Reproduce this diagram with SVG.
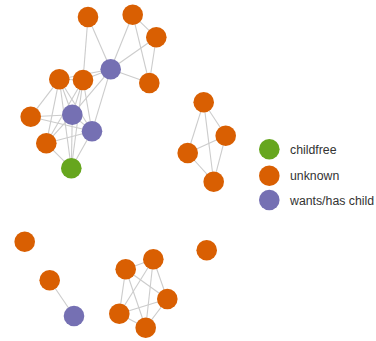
<svg xmlns="http://www.w3.org/2000/svg" width="376" height="341" viewBox="0 0 376 341">
<style>
.e{stroke:#cccccc;stroke-width:1.1;fill:none}
.o{fill:#d95f02}
.g{fill:#66a61e}
.p{fill:#7570b3}
.t{font-family:"Liberation Sans",Arial,sans-serif;font-size:12.3px;fill:#333333}
</style>
<rect width="376" height="341" fill="#ffffff"/>
<g id="edges">
<line class="e" x1="88" y1="17" x2="110.7" y2="69.3"/>
<line class="e" x1="88" y1="17" x2="83" y2="80"/>
<line class="e" x1="132.7" y1="14.7" x2="110.7" y2="69.3"/>
<line class="e" x1="132.7" y1="14.7" x2="156.3" y2="37.3"/>
<line class="e" x1="132.7" y1="14.7" x2="149.3" y2="83"/>
<line class="e" x1="156.3" y1="37.3" x2="110.7" y2="69.3"/>
<line class="e" x1="156.3" y1="37.3" x2="149.3" y2="83"/>
<line class="e" x1="149.3" y1="83" x2="110.7" y2="69.3"/>
<line class="e" x1="83" y1="80" x2="110.7" y2="69.3"/>
<line class="e" x1="59.3" y1="79.3" x2="110.7" y2="69.3"/>
<line class="e" x1="59.3" y1="79.3" x2="83" y2="80"/>
<line class="e" x1="110.7" y1="69.3" x2="72.3" y2="114.7"/>
<line class="e" x1="110.7" y1="69.3" x2="92" y2="131.3"/>
<line class="e" x1="59.3" y1="79.3" x2="30.7" y2="116.7"/>
<line class="e" x1="59.3" y1="79.3" x2="72.3" y2="114.7"/>
<line class="e" x1="59.3" y1="79.3" x2="92" y2="131.3"/>
<line class="e" x1="59.3" y1="79.3" x2="46.3" y2="143.3"/>
<line class="e" x1="59.3" y1="79.3" x2="71.3" y2="168.3"/>
<line class="e" x1="83" y1="80" x2="72.3" y2="114.7"/>
<line class="e" x1="83" y1="80" x2="92" y2="131.3"/>
<line class="e" x1="83" y1="80" x2="46.3" y2="143.3"/>
<line class="e" x1="83" y1="80" x2="71.3" y2="168.3"/>
<line class="e" x1="30.7" y1="116.7" x2="72.3" y2="114.7"/>
<line class="e" x1="30.7" y1="116.7" x2="92" y2="131.3"/>
<line class="e" x1="46.3" y1="143.3" x2="72.3" y2="114.7"/>
<line class="e" x1="46.3" y1="143.3" x2="92" y2="131.3"/>
<line class="e" x1="46.3" y1="143.3" x2="71.3" y2="168.3"/>
<line class="e" x1="72.3" y1="114.7" x2="92" y2="131.3"/>
<line class="e" x1="72.3" y1="114.7" x2="71.3" y2="168.3"/>
<line class="e" x1="92" y1="131.3" x2="71.3" y2="168.3"/>
<line class="e" x1="203.7" y1="102.3" x2="225.7" y2="135.7"/>
<line class="e" x1="203.7" y1="102.3" x2="187.7" y2="153"/>
<line class="e" x1="203.7" y1="102.3" x2="213.7" y2="181.7"/>
<line class="e" x1="225.7" y1="135.7" x2="187.7" y2="153"/>
<line class="e" x1="225.7" y1="135.7" x2="213.7" y2="181.7"/>
<line class="e" x1="187.7" y1="153" x2="213.7" y2="181.7"/>
<line class="e" x1="49.7" y1="280.3" x2="74" y2="316"/>
<line class="e" x1="125.7" y1="269.3" x2="153.3" y2="259.3"/>
<line class="e" x1="125.7" y1="269.3" x2="167.3" y2="299"/>
<line class="e" x1="125.7" y1="269.3" x2="119.3" y2="313.7"/>
<line class="e" x1="125.7" y1="269.3" x2="145.7" y2="327.7"/>
<line class="e" x1="153.3" y1="259.3" x2="167.3" y2="299"/>
<line class="e" x1="153.3" y1="259.3" x2="119.3" y2="313.7"/>
<line class="e" x1="153.3" y1="259.3" x2="145.7" y2="327.7"/>
<line class="e" x1="167.3" y1="299" x2="119.3" y2="313.7"/>
<line class="e" x1="167.3" y1="299" x2="145.7" y2="327.7"/>
<line class="e" x1="119.3" y1="313.7" x2="145.7" y2="327.7"/>
</g>
<g id="n1"><circle class="o" cx="88" cy="17" r="10.3"/></g>
<g id="n2"><circle class="o" cx="132.7" cy="14.7" r="10.3"/></g>
<g id="n3"><circle class="o" cx="156.3" cy="37.3" r="10.3"/></g>
<g id="n4"><circle class="o" cx="149.3" cy="83" r="10.3"/></g>
<g id="n5"><circle class="p" cx="110.7" cy="69.3" r="10.3"/></g>
<g id="n6"><circle class="o" cx="59.3" cy="79.3" r="10.3"/></g>
<g id="n7"><circle class="o" cx="83" cy="80" r="10.3"/></g>
<g id="n8"><circle class="o" cx="30.7" cy="116.7" r="10.3"/></g>
<g id="n9"><circle class="p" cx="72.3" cy="114.7" r="10.3"/></g>
<g id="n10"><circle class="p" cx="92" cy="131.3" r="10.3"/></g>
<g id="n11"><circle class="o" cx="46.3" cy="143.3" r="10.3"/></g>
<g id="n12"><circle class="g" cx="71.3" cy="168.3" r="10.3"/></g>
<g id="n13"><circle class="o" cx="203.7" cy="102.3" r="10.3"/></g>
<g id="n14"><circle class="o" cx="225.7" cy="135.7" r="10.3"/></g>
<g id="n15"><circle class="o" cx="187.7" cy="153" r="10.3"/></g>
<g id="n16"><circle class="o" cx="213.7" cy="181.7" r="10.3"/></g>
<g id="n17"><circle class="o" cx="24.7" cy="241.7" r="10.3"/></g>
<g id="n18"><circle class="o" cx="49.7" cy="280.3" r="10.3"/></g>
<g id="n19"><circle class="p" cx="74" cy="316" r="10.3"/></g>
<g id="n20"><circle class="o" cx="206.7" cy="250.3" r="10.3"/></g>
<g id="n21"><circle class="o" cx="125.7" cy="269.3" r="10.3"/></g>
<g id="n22"><circle class="o" cx="153.3" cy="259.3" r="10.3"/></g>
<g id="n23"><circle class="o" cx="167.3" cy="299" r="10.3"/></g>
<g id="n24"><circle class="o" cx="119.3" cy="313.7" r="10.3"/></g>
<g id="n25"><circle class="o" cx="145.7" cy="327.7" r="10.3"/></g>
<g id="legend">
<circle class="g" cx="269.3" cy="149.3" r="10.3"/>
<circle class="o" cx="269.3" cy="175.7" r="10.3"/>
<circle class="p" cx="269.3" cy="200" r="10.3"/>
<text class="t" x="290" y="153.5">childfree</text>
<text class="t" x="290" y="179.8">unknown</text>
<text class="t" x="290" y="204.5">wants/has child</text>
</g>
</svg>
